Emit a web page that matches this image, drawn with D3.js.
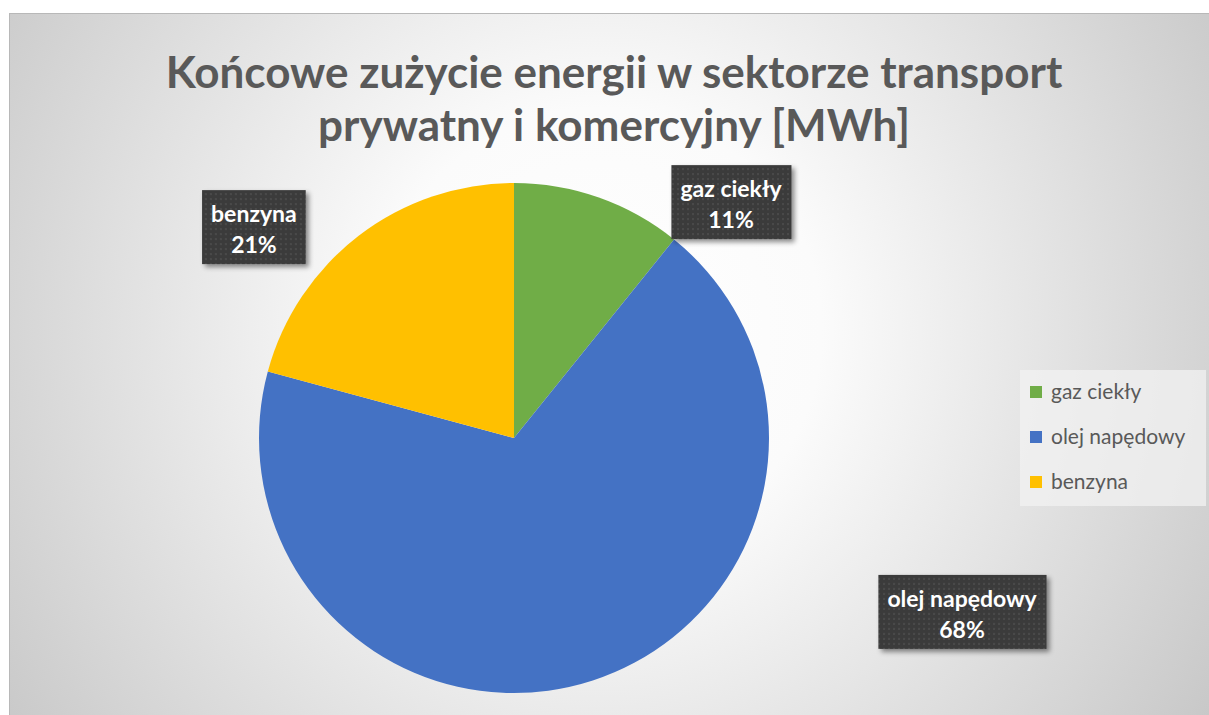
<!DOCTYPE html>
<html>
<head>
<meta charset="utf-8">
<script src="https://cdn.jsdelivr.net/npm/d3@7"></script>
<style>
  html, body { margin: 0; padding: 0; background: #fff; }
  svg { display: block; font-family: Lato, "Open Sans", sans-serif; }
</style>
</head>
<body>
<div id="chart"></div>
<script>
// Końcowe zużycie energii - udział paliw (%)
const categories = ["gaz ciekły", "olej napędowy", "benzyna"];
const values = [10.8, 68.4, 20.8];
const colors = ["#70AD47", "#4472C4", "#FFC000"];
const titleLines = ["Końcowe zużycie energii w sektorze transport", "prywatny i komercyjny [MWh]"];

// label box centres, relative to pie centre (in radius units)
const labelOffsets = [[0.851, -0.925], [1.757, 0.682], [-1.02, -0.827]];

function createPieChart() {
    const W = 1209, H = 715;
    const svg = d3.select("#chart").append("svg")
        .attr("width", W)
        .attr("height", H);

    const defs = svg.append("defs");

    const grad = defs.append("radialGradient")
        .attr("id", "bg")
        .attr("gradientUnits", "userSpaceOnUse")
        .attr("cx", 600).attr("cy", 330).attr("r", 740);
    grad.append("stop").attr("offset", 0).attr("stop-color", "#ffffff");
    grad.append("stop").attr("offset", 0.3).attr("stop-color", "#fbfbfb");
    grad.append("stop").attr("offset", 1).attr("stop-color", "#c6c6c6");

    // dotted dark fill for data labels
    const pat = defs.append("pattern")
        .attr("id", "dots")
        .attr("patternUnits", "userSpaceOnUse")
        .attr("width", 5).attr("height", 5);
    pat.append("rect").attr("width", 5).attr("height", 5).attr("fill", "#3b3b3b");
    pat.append("rect").attr("x", 1).attr("y", 1).attr("width", 2).attr("height", 2).attr("fill", "#4a4a4a");

    const shadow = defs.append("filter")
        .attr("id", "shadow")
        .attr("x", "-20%").attr("y", "-20%")
        .attr("width", "150%").attr("height", "150%");
    shadow.append("feDropShadow")
        .attr("dx", 3).attr("dy", 3)
        .attr("stdDeviation", 2.5)
        .attr("flood-color", "#000")
        .attr("flood-opacity", 0.45);

    // chart area
    svg.append("rect")
        .attr("x", 9.5).attr("y", 13.5)
        .attr("width", W).attr("height", H)
        .attr("fill", "url(#bg)")
        .attr("stroke", "#b8b8b8");

    // title
    svg.append("text")
        .attr("text-anchor", "middle")
        .attr("font-size", 44)
        .attr("font-weight", "bold")
        .attr("fill", "#595959")
        .selectAll("tspan")
        .data(titleLines)
        .enter().append("tspan")
        .attr("x", 614)
        .attr("y", (d, i) => 88 + i * 53)
        .text(d => d);

    // pie
    const cx = 514, cy = 438, r = 255;
    const data = categories.map((c, i) => ({ name: c, value: values[i], color: colors[i], off: labelOffsets[i] }));
    const total = d3.sum(values);
    const pct = d3.format(".0%");

    const pie = d3.pie().value(d => d.value).sort(null);
    const arc = d3.arc().innerRadius(0).outerRadius(r);

    const g = svg.append("g").attr("transform", `translate(${cx},${cy})`);

    g.selectAll(".slice")
        .data(pie(data))
        .enter().append("path")
        .attr("class", "slice")
        .attr("d", arc)
        .attr("fill", d => d.data.color);

    // data labels
    const labels = g.selectAll(".lbl")
        .data(data)
        .enter().append("g")
        .attr("class", "lbl")
        .attr("transform", d => `translate(${d.off[0] * r},${d.off[1] * r})`);

    const box = labels.append("rect")
        .attr("fill", "url(#dots)")
        .attr("filter", "url(#shadow)");

    const txt = labels.append("text")
        .attr("text-anchor", "middle")
        .attr("font-size", 23)
        .attr("font-weight", "bold")
        .attr("fill", "#ffffff");
    txt.append("tspan").attr("x", 0).attr("y", -5).text(d => d.name);
    txt.append("tspan").attr("x", 0).attr("y", 26).text(d => pct(d.value / total));

    box.each(function() {
        const t = d3.select(this.parentNode).select("text").node().getBBox();
        d3.select(this)
            .attr("x", t.x - 9)
            .attr("y", -37)
            .attr("width", t.width + 18)
            .attr("height", 74);
    });

    // legend
    const legend = svg.append("g").attr("transform", "translate(1020,370)");
    legend.append("rect")
        .attr("width", 186).attr("height", 136)
        .attr("fill", "#f2f2f2")
        .attr("fill-opacity", 0.75);

    const items = legend.selectAll(".item")
        .data(data)
        .enter().append("g")
        .attr("class", "item")
        .attr("transform", (d, i) => `translate(10,${22 + i * 45})`);
    items.append("rect")
        .attr("x", 0).attr("y", -6)
        .attr("width", 12).attr("height", 12)
        .attr("fill", d => d.color);
    items.append("text")
        .attr("x", 21).attr("y", 7)
        .attr("font-size", 21)
        .attr("fill", "#595959")
        .text(d => d.name);
}

createPieChart();
</script>
</body>
</html>
